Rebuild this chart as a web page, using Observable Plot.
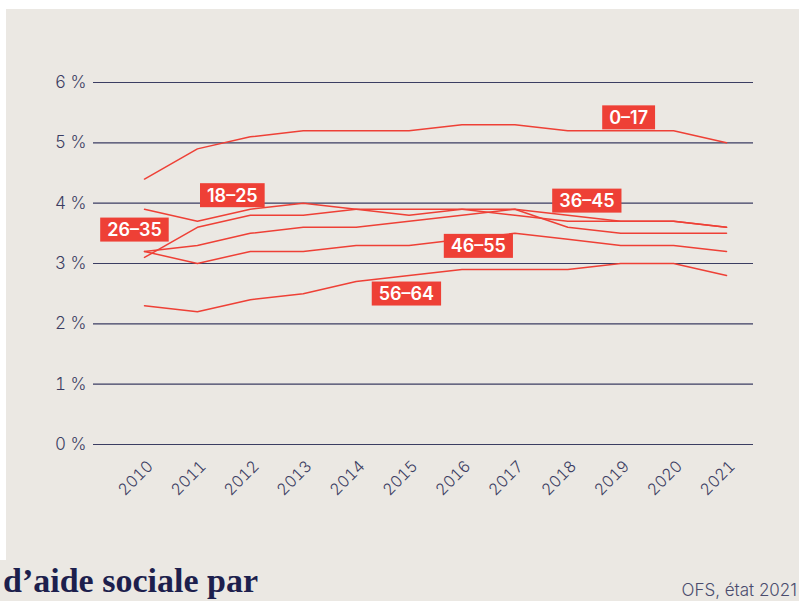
<!DOCTYPE html>
<html>
<head>
<meta charset="utf-8">
<script src="https://cdn.jsdelivr.net/npm/d3@7"></script>
<script src="https://cdn.jsdelivr.net/npm/@observablehq/plot@0.6"></script>
<style>
  html, body { margin: 0; padding: 0; }
  body { width: 799px; height: 601px; background: #ebe8e3; position: relative; overflow: hidden; font-family: Inter, "Noto Sans", sans-serif; }
  #topstrip { position: absolute; left: 0; top: 0; width: 799px; height: 9px; background: #ffffff; }
  #leftstrip { position: absolute; left: 0; top: 0; width: 6px; height: 560px; background: #ffffff; }
  #chart { position: absolute; left: 0; top: 0; }
  #title { position: absolute; left: 3px; top: 564px; font-family: "Liberation Serif", "DejaVu Serif", serif; font-weight: bold; font-size: 34px; color: #1d1f4d; white-space: nowrap; line-height: 1; }
  #source { position: absolute; right: 2px; top: 582px; font-family: Inter, "Noto Sans", sans-serif; font-weight: 300; font-size: 17px; color: #4a4c6e; white-space: nowrap; line-height: 1; }
</style>
</head>
<body>
<div id="topstrip"></div>
<div id="leftstrip"></div>
<div id="chart"></div>
<div id="title">d’aide sociale par</div>
<div id="source">OFS, état 2021</div>
<script>
const years = [2010, 2011, 2012, 2013, 2014, 2015, 2016, 2017, 2018, 2019, 2020, 2021];
const groups = ["0–17", "18–25", "26–35", "36–45", "46–55", "56–64"];
const rate_0_17  = [4.4, 4.9, 5.1, 5.2, 5.2, 5.2, 5.3, 5.3, 5.2, 5.2, 5.2, 5.0];
const rate_18_25 = [3.9, 3.7, 3.9, 4.0, 3.9, 3.8, 3.9, 3.9, 3.8, 3.7, 3.7, 3.6];
const rate_26_35 = [3.1, 3.6, 3.8, 3.8, 3.9, 3.9, 3.9, 3.8, 3.7, 3.7, 3.7, 3.6];
const rate_36_45 = [3.2, 3.3, 3.5, 3.6, 3.6, 3.7, 3.8, 3.9, 3.6, 3.5, 3.5, 3.5];
const rate_46_55 = [3.2, 3.0, 3.2, 3.2, 3.3, 3.3, 3.4, 3.5, 3.4, 3.3, 3.3, 3.2];
const rate_56_64 = [2.3, 2.2, 2.4, 2.5, 2.7, 2.8, 2.9, 2.9, 2.9, 3.0, 3.0, 2.8];
const series = [rate_0_17, rate_18_25, rate_26_35, rate_36_45, rate_46_55, rate_56_64];
const yTicks = [0, 1, 2, 3, 4, 5, 6];
// label anchor positions (in data units)
const labelYear  = [2019.15, 2011.66, 2009.81, 2018.36, 2016.31, 2014.95];
const labelValue = [5.41, 4.12, 3.55, 4.03, 3.28, 2.49];

const rows = [];
groups.forEach((g, i) => years.forEach((y, j) => rows.push({group: g, year: y, value: series[i][j]})));
const labels = groups.map((g, i) => ({group: g, year: labelYear[i], value: labelValue[i]}));

const RED = "#ee4036";
const NAVY = "#3b3d62";

const plot = Plot.plot({
  width: 799,
  height: 540,
  marginTop: 82,
  marginBottom: 96,
  marginLeft: 93,
  marginRight: 46,
  style: { background: "transparent", fontFamily: "Inter, 'Noto Sans', sans-serif", overflow: "visible" },
  x: { domain: [2009.036, 2021.51], axis: null, label: null },
  y: { domain: [0, 6], axis: null, label: null },
  marks: [
    Plot.ruleY(yTicks, { stroke: NAVY, strokeWidth: 1.2 }),
    Plot.axisY({ ticks: yTicks, tickSize: 0, tickPadding: 7, label: null, tickFormat: d => d + " %", fontSize: 17, fill: NAVY, fontWeight: 300 }),
    Plot.axisX({ ticks: years, tickSize: 0, tickPadding: 19, dx: 6, tickRotate: -45, label: null, tickFormat: d => String(d), fontSize: 16, fill: NAVY, fontWeight: 300 }),
    Plot.line(rows, { x: "year", y: "value", z: "group", stroke: RED, strokeWidth: 1.5 }),
    Plot.text(labels, { x: "year", y: "value", text: "group", fill: "#ffffff", fontSize: 18, fontWeight: 600, textAnchor: "middle" })
  ]
});
document.getElementById("chart").appendChild(plot);

// add red label boxes behind label texts
const svg = d3.select(plot.tagName.toLowerCase() === "svg" ? plot : plot.querySelector("svg"));
svg.selectAll("text").each(function() {
  const t = this.textContent;
  if (groups.includes(t) && this.parentNode) {
    const b = this.getBBox();
    const padX = 7, padY = 1.5;
    const r = document.createElementNS("http://www.w3.org/2000/svg", "rect");
    r.setAttribute("x", b.x - padX);
    r.setAttribute("y", b.y - padY);
    r.setAttribute("width", b.width + 2 * padX);
    r.setAttribute("height", b.height + 2 * padY);
    r.setAttribute("fill", RED);
    const tr = this.getAttribute("transform");
    if (tr) r.setAttribute("transform", tr);
    this.parentNode.insertBefore(r, this);
  }
});
</script>
</body>
</html>
